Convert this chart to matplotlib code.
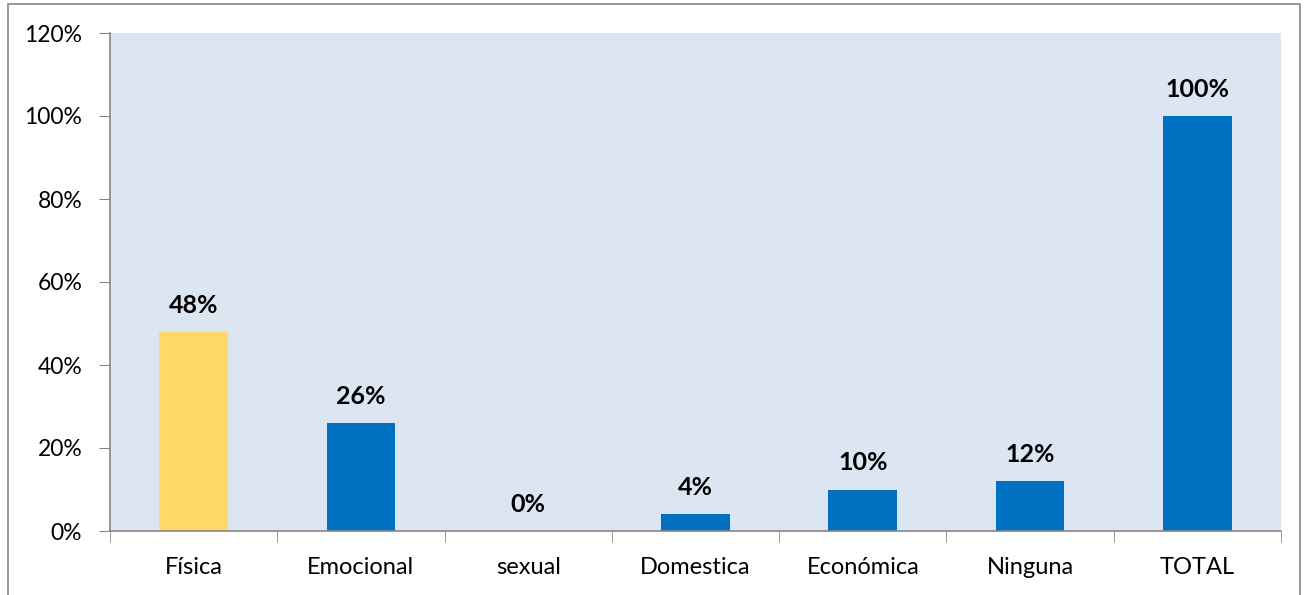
import matplotlib.pyplot as plt
from matplotlib.patches import Rectangle

# data
categories = ["Física", "Emocional", "sexual", "Domestica", "Económica", "Ninguna", "TOTAL"]
values = [48, 26, 0, 4, 10, 12, 100]
colors = ["#FFD966", "#0070C0", "#0070C0", "#0070C0", "#0070C0", "#0070C0", "#0070C0"]
yticks = [0, 20, 40, 60, 80, 100, 120]

plt.rcParams['font.family'] = ['Lato', 'DejaVu Sans']

fig = plt.figure(figsize=(13.11, 5.95), dpi=100)
ax = fig.add_axes([110 / 1311, 1 - 531 / 595, (1281 - 110) / 1311, (531 - 33) / 595])
ax.set_facecolor("#DCE6F2")

x = range(len(categories))
ax.bar(x, values, width=0.41, color=colors, zorder=2)

for i, v in enumerate(values):
    ax.annotate(f"{v}%", (i, v), xytext=(0, 11), textcoords="offset points",
                ha="center", va="bottom", fontsize=18, fontweight="bold")

ax.set_xlim(-0.5, len(categories) - 0.5)
ax.set_ylim(0, 120)
ax.set_yticks(yticks)
ax.set_yticklabels([f"{t}%" for t in yticks], fontsize=16.5)
ax.set_xticks(list(x))
ax.set_xticklabels(categories, fontsize=17)
ax.tick_params(axis="x", length=0, pad=19)
ax.set_xticks([i - 0.5 for i in range(len(categories) + 1)], minor=True)
ax.tick_params(axis="x", which="minor", length=8, color="#878787")
ax.tick_params(axis="y", length=8, color="#878787", pad=12)

for s in ["top", "right"]:
    ax.spines[s].set_visible(False)
for s in ["left", "bottom"]:
    ax.spines[s].set_color("#878787")
    ax.spines[s].set_linewidth(1.2)

# outer chart border
fig.patches.append(Rectangle((8 / 1311, -0.2), (1300 - 8) / 1311, 1.2 - 4 / 595,
                             transform=fig.transFigure, fill=False,
                             edgecolor="#878787", linewidth=1.2))

fig.savefig("out.png", dpi=100)
